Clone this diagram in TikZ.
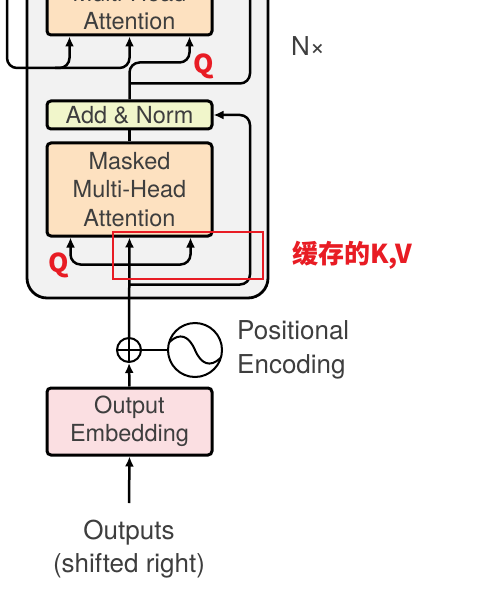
\documentclass[tikz,border=0pt]{standalone}
\usepackage{fontspec}
\setmainfont{TeX Gyre Heros}
\newfontfamily\cjk{Noto Sans CJK SC}
\usepackage{tikz}
\usetikzlibrary{arrows.meta, positioning, calc}
\definecolor{panelgray}{RGB}{242,242,242}
\definecolor{normgreen}{RGB}{241,246,203}
\definecolor{attnorange}{RGB}{253,225,192}
\definecolor{embpink}{RGB}{251,223,226}
\definecolor{textgray}{RGB}{62,62,62}
\definecolor{markred}{RGB}{232,28,36}

\begin{document}
\begin{tikzpicture}[x=1pt,y=-1pt,
  block/.style={draw, line width=3pt, rounded corners=4pt, minimum width=165pt,
    inner sep=0pt, align=center, text=textgray, font=\fontsize{23.5}{28.5}\selectfont},
  flow/.style={line width=2.5pt, rounded corners=10pt, -{Latex[length=10pt,width=9pt]}},
  link/.style={line width=2.5pt, rounded corners=10pt},
  lbl/.style={text=textgray, inner sep=0pt, font=\fontsize{26}{33.5}\selectfont},
  redtag/.style={text=markred, inner sep=0pt, font=\cjk\bfseries\fontsize{26}{26}\selectfont}]
\useasboundingbox (0,0) rectangle (476,596);
\clip (0,0) rectangle (476,596);
% Decoder layer
\draw[line width=2.8pt, fill=panelgray, rounded corners=20pt] (27,-40) rectangle (268,298);
% Blocks
\node[block, fill=normgreen, minimum height=28pt] (addnorm) at (129.5,115) {Add \& Norm};
\node[block, fill=attnorange, minimum height=56pt, above=63pt of addnorm] (crossatt) {Multi-Head\\Attention};
\node[block, fill=attnorange, minimum height=93pt, below=11pt of addnorm] (masked) {Masked\\Multi-Head\\Attention};
\node[block, fill=embpink, minimum height=67pt] (embed) at (129.5,421.5) {Output\\Embedding};
\node[draw, circle, line width=2pt, minimum size=24pt, inner sep=0pt] (oplus) at (129,350) {};
\node[draw, circle, line width=2pt, minimum size=54pt, inner sep=0pt, right=25pt of oplus] (posenc) {};
\draw[line width=1.6pt] (oplus.north) -- (oplus.south) (oplus.west) -- (oplus.east);
\draw[line width=2pt] ($(posenc.center)+(-25.5,-8)$)
  .. controls ($(posenc.center)+(-15,-18)$) and ($(posenc.center)+(-6,-14)$) .. (posenc.center)
  .. controls ($(posenc.center)+(6,14)$) and ($(posenc.center)+(15,18)$) .. ($(posenc.center)+(25.5,8)$);
% Labels
\node[lbl, align=left, right=14pt of posenc] (poslbl) {Positional\\Encoding};
\node[lbl, align=center] (outlbl) at (129,549) {Outputs\\(shifted right)};
\node[lbl] (nx) at (308,46) {N×};
% Free ends
\coordinate (enc) at (7,-10);
\coordinate (resup) at (250,-10);
\coordinate (outtail) at (129,503);
% Inputs of the lower attention
\draw[flow] (oplus.north) -- (masked.south);
\draw[flow] ($(masked.south)+(0,27)$) -| ([xshift=-59pt]masked.south);
\draw[flow] ($(masked.south)+(0,27)$) -| ([xshift=61pt]masked.south);
\draw[flow] ($(masked.south)+(0,47)$) -- ($(masked.south)+(120.5,47)$) |- (addnorm.east);
% Inputs of the upper attention
\draw[flow] (enc) -- (7,68) -| (crossatt.south);
\draw[flow] (55,68) -| ([xshift=-60pt]crossatt.south);
\draw[flow] (addnorm.north) -- ++(0,-37) -| ([xshift=60pt]crossatt.south);
\draw[link] ($(addnorm.north)+(0,-16)$) -| (resup);
\draw[line width=2.5pt] (masked.north) -- (addnorm.south);
% Embedding
\draw[flow] (outtail) -- (embed.south);
\draw[flow] (embed.north) -- (oplus.south);
\draw[line width=2pt] (oplus.east) -- (posenc.west);
% Cached K,V
\node[draw=markred, line width=2.5pt, minimum width=150pt, minimum height=47pt, inner sep=0pt] (cachebox) at (188,255.5) {};
\node[redtag, right=28pt of cachebox] (cachelbl) {缓存的K,V};
\node[redtag] (qcross) at (204,66) {Q};
\node[redtag] (qmask) at (59,265) {Q};
\end{tikzpicture}
\end{document}
